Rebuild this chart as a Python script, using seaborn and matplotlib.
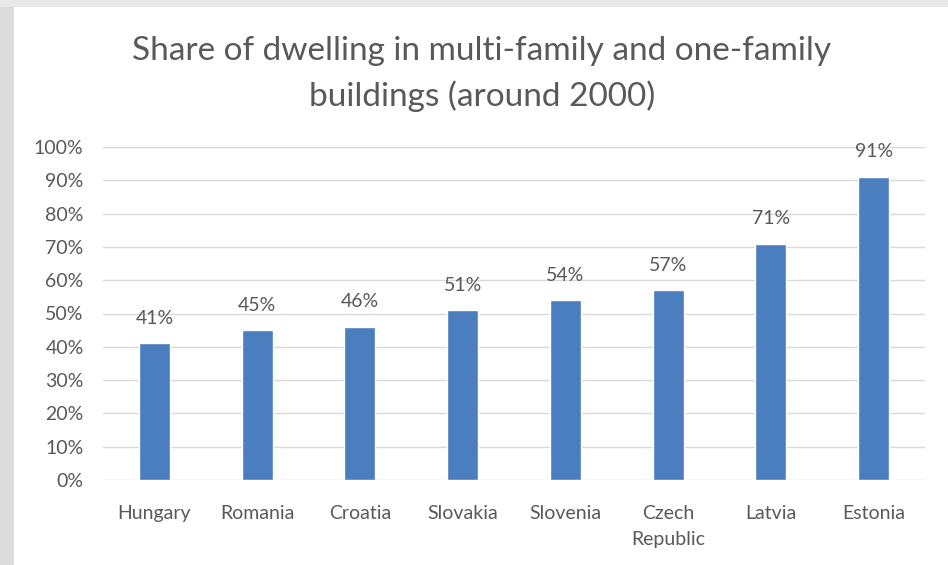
import matplotlib
matplotlib.use("Agg")
import matplotlib.pyplot as plt
from matplotlib.patches import Rectangle
import seaborn as sns
import pandas as pd

countries = ["Hungary", "Romania", "Croatia", "Slovakia", "Slovenia",
             "Czech\nRepublic", "Latvia", "Estonia"]
shares = [41, 45, 46, 51, 54, 57, 71, 91]
y_ticks = [0, 10, 20, 30, 40, 50, 60, 70, 80, 90, 100]
title = "Share of dwelling in multi-family and one-family\nbuildings (around 2000)"

sns.set_theme(style="white")
plt.rcParams["font.family"] = ["Lato", "DejaVu Sans"]

text_color = "#595959"
bar_color = "#4a7ebf"
grid_color = "#d9d9d9"

df = pd.DataFrame({"country": countries, "share": shares})

fig = plt.figure(figsize=(9.48, 5.65), dpi=100)
fig.patch.set_facecolor("white")

# window frame around the chart
fig.add_artist(Rectangle((0, 0), 14 / 948, 1, transform=fig.transFigure,
                         facecolor="#dcdcdc", edgecolor="none", zorder=0))
fig.add_artist(Rectangle((0, 1 - 7 / 565), 1, 7 / 565, transform=fig.transFigure,
                         facecolor="#e8e8e8", edgecolor="none", zorder=0))

ax = fig.add_axes([103 / 948, 1 - 480 / 565, 822 / 948, 333 / 565])
ax.set_facecolor("none")

sns.barplot(data=df, x="country", y="share", color=bar_color, width=0.30,
            saturation=1, ax=ax, zorder=3)

ax.set_ylim(0, 100)
ax.set_xlim(-0.5, len(countries) - 0.5)
ax.set_yticks(y_ticks)
ax.set_yticklabels([f"{v}%" for v in y_ticks])
for v in y_ticks:
    ax.axhline(v, color=grid_color, lw=1, zorder=1)

for spine in ax.spines.values():
    spine.set_visible(False)

ax.tick_params(axis="y", length=0, pad=14, labelsize=14, labelcolor=text_color)
ax.tick_params(axis="x", length=0, pad=18, labelsize=14, labelcolor=text_color)
for lbl in ax.get_xticklabels():
    lbl.set_linespacing(1.65)
ax.set_xlabel("")
ax.set_ylabel("")

for i, v in enumerate(shares):
    ax.annotate(f"{v}%", (i, v), xytext=(0, 18), textcoords="offset points",
                ha="center", va="center", fontsize=14, color=text_color)

fig.text(482 / 948, 1 - 74 / 565, title, ha="center", va="center",
         fontsize=24, color=text_color, linespacing=1.6)

fig.savefig("out.png", dpi=100)
